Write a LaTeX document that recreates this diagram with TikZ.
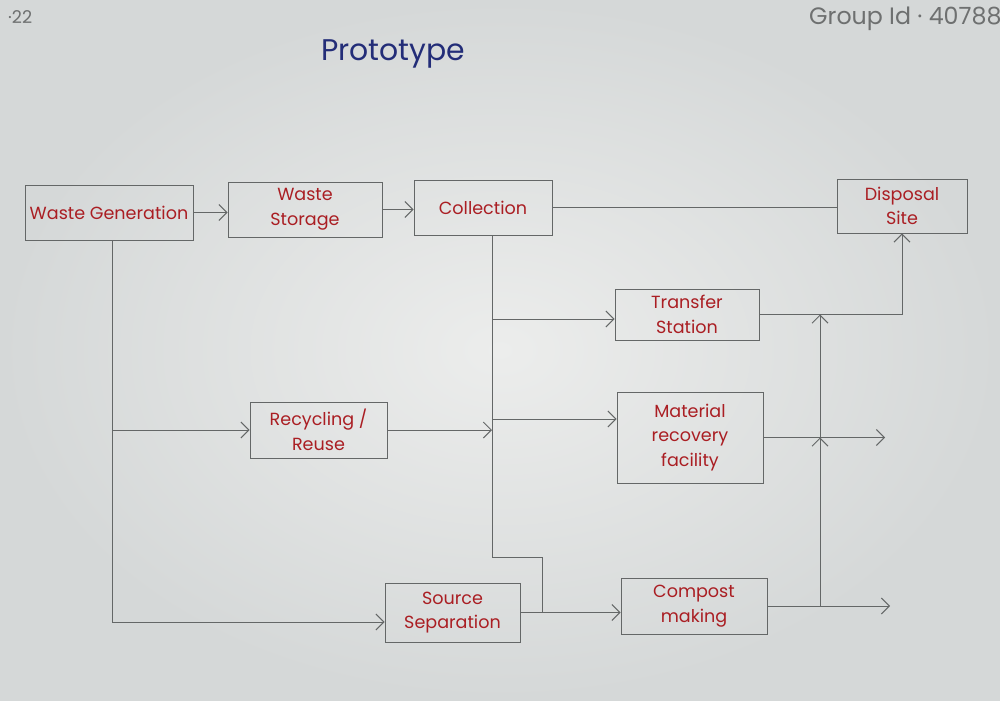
\documentclass[tikz,border=0pt]{standalone}
\usepackage{fontspec}
\setmainfont{Poppins}
\usetikzlibrary{arrows.meta}
\definecolor{paperin}{RGB}{236,237,236}
\definecolor{paperout}{RGB}{213,216,216}
\definecolor{inkred}{RGB}{170,30,35}
\definecolor{inkblue}{RGB}{35,45,120}
\definecolor{pencil}{RGB}{100,103,103}
\definecolor{graytext}{RGB}{110,112,112}
\tikzset{
  box/.style={draw=pencil, line width=0.55pt, text=inkred, align=center,
    font=\fontsize{10}{14}\selectfont, inner sep=0pt},
  wire/.style={draw=pencil, line width=0.55pt},
  arr/.style={wire, -{Straight Barb[length=1.6mm,width=3.2mm,line width=0.55pt]}}
}
\begin{document}
\begin{tikzpicture}[x=0.02cm,y=-0.02cm]
\useasboundingbox (0,0) rectangle (1000,700);
\clip (0,0) rectangle (1000,700);
\shade[inner color=paperin, outer color=paperout] (0,0) rectangle (1000,700);

% header texts
\node[anchor=west, text=graytext, font=\fontsize{10}{12}\selectfont] (date) at (2,17) {·22};
\node[anchor=west, text=graytext, font=\fontsize{13.5}{15}\selectfont] (gid) at (803,19) {Group Id · 40788};
\node[text=inkblue, font=\fontsize{17}{20}\selectfont] (title) at (393,54) {Prototype};

% boxes
\node[box, minimum width=3.36cm, minimum height=1.10cm] (wg) at (109,212.5) {Waste Generation};
\node[box, minimum width=3.08cm, minimum height=1.10cm] (ws) at (305,209.5) {Waste\\Storage};
\node[box, minimum width=2.76cm, minimum height=1.10cm] (coll) at (483,207.5) {Collection};
\node[box, minimum width=2.60cm, minimum height=1.08cm] (disp) at (902,206) {Disposal\\Site};
\node[box, minimum width=2.88cm, minimum height=1.02cm] (ts) at (687,314.5) {Transfer\\Station};
\node[box, minimum width=2.92cm, minimum height=1.82cm] (mrf) at (690,437.5) {Material\\recovery\\facility};
\node[box, minimum width=2.74cm, minimum height=1.12cm] (rr) at (318.5,430) {Recycling /\\Reuse};
\node[box, minimum width=2.70cm, minimum height=1.18cm] (ss) at (452.5,612.5) {Source\\Separation};
\node[box, minimum width=2.92cm, minimum height=1.12cm] (cm) at (694,606) {Compost\\making};

% junction coordinates
\coordinate (t1) at (492,557);
\coordinate (t2) at (542,557);
\coordinate (b1) at (492,319);
\coordinate (b2) at (492,419);
\coordinate (w1) at (112,622);
\coordinate (v) at (820,0);
\coordinate (e1) at (885,0);
\coordinate (e2) at (890,0);

% top row
\draw[arr] (wg.east) -- (wg.east -| ws.west);
\draw[arr] (ws.east) -- (ws.east -| coll.west);
\draw[wire] (coll.east) -- (coll.east -| disp.west);

% collection trunk
\draw[wire] (coll.south -| t1) -- (t1) -- (t2) -- (ss.east -| t2);
\draw[arr] (b1) -- (b1 -| ts.west);
\draw[arr] (b2) -- (b2 -| mrf.west);
\draw[arr] (rr.east) -- (rr.east -| t1);

% waste generation trunk
\draw[wire] (wg.south -| w1) -- (w1);
\draw[arr] (w1) -- (w1 -| ss.west);
\draw[arr] (rr.west -| w1) -- (rr.west);

% source separation to compost
\draw[arr] (ss.east) -- (ss.east -| cm.west);

% right side
\draw[arr] (mrf.east) -- (mrf.east -| e1);
\draw[arr] (cm.east) -- (cm.east -| e2);
\draw[arr] (cm.east -| v) -- (mrf.east -| v);
\draw[arr] (mrf.east -| v) -- (ts.east -| v);
\draw[arr] (ts.east) -- (ts.east -| disp.south) -- (disp.south);
\end{tikzpicture}
\end{document}
